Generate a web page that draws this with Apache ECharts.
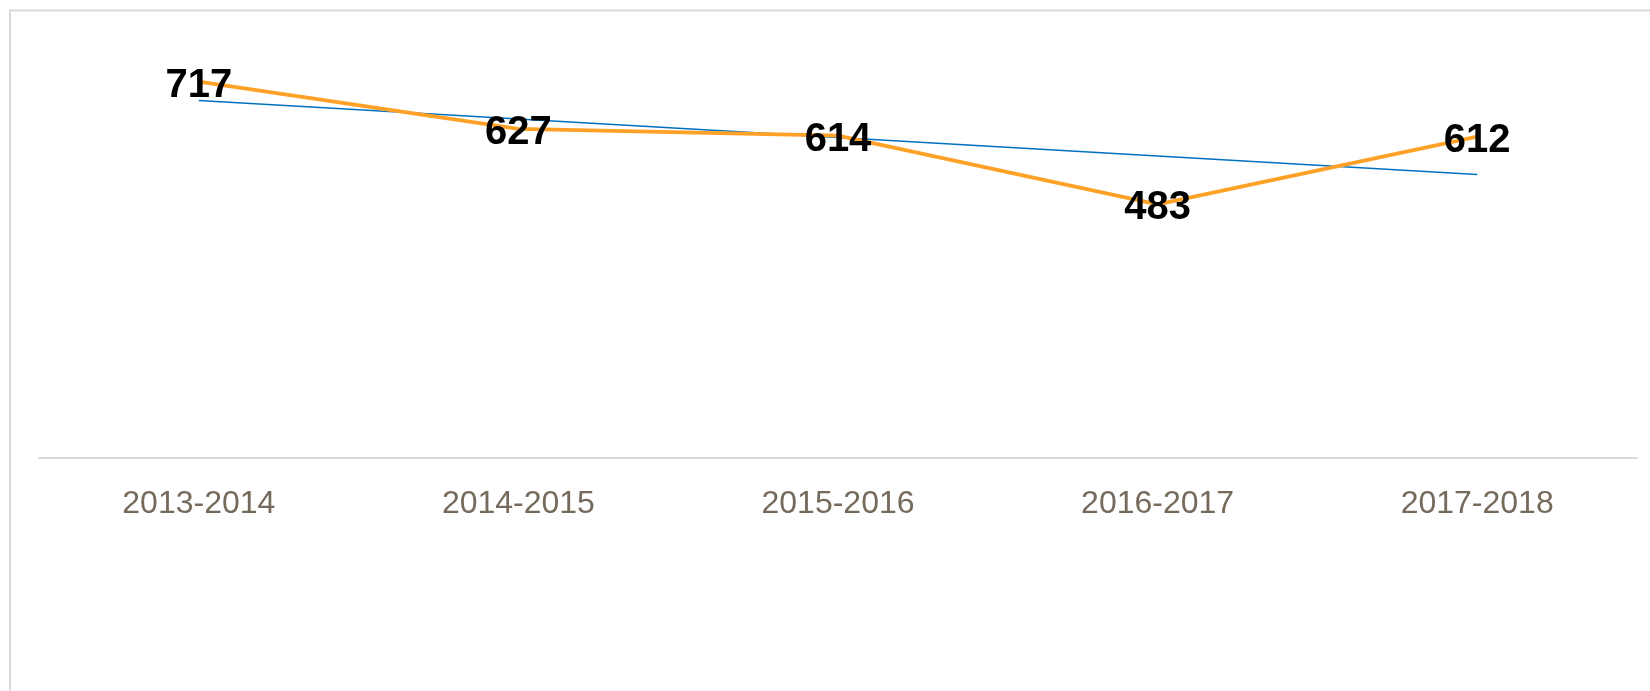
<!DOCTYPE html>
<html>
<head>
<meta charset="utf-8">
<style>
  html, body { margin: 0; padding: 0; background: #fff; }
  #chart { width: 1650px; height: 691px; }
</style>
<script src="https://cdn.jsdelivr.net/npm/echarts@6/dist/echarts.min.js"></script>
</head>
<body>
<div id="chart"></div>
<script>
// data
var categories = ['2013-2014', '2014-2015', '2015-2016', '2016-2017', '2017-2018'];
var values = [717, 627, 614, 483, 612];
// linear trendline, start and end values
var trendStart = 681;
var trendEnd = 540;

var trendData = categories.map(function (c, i) {
  if (i == 0) return trendStart;
  if (i == categories.length - 1) return trendEnd;
  return null;
});

var chart = echarts.init(document.getElementById('chart'));
var option = {
  animation: false,
  grid: { left: 39, right: 13, top: 38, bottom: 233, containLabel: false },
  graphic: [
    {
      type: 'polyline',
      silent: true,
      shape: { points: [[10, 700], [10, 10.5], [1660, 10.5]] },
      style: { stroke: '#D9D9D9', lineWidth: 2, fill: null }
    }
  ],
  xAxis: {
    type: 'category',
    data: categories,
    boundaryGap: true,
    axisLine: { lineStyle: { color: '#D9D9D9', width: 2 } },
    axisTick: { show: false },
    axisLabel: {
      color: '#766A5C',
      fontFamily: 'Liberation Sans',
      fontSize: 32,
      margin: 30
    }
  },
  yAxis: {
    type: 'value',
    min: 0,
    max: 800,
    show: false,
    splitLine: { show: false }
  },
  series: [
    {
      name: 'trend',
      type: 'line',
      data: trendData,
      connectNulls: true,
      showSymbol: false,
      symbol: 'none',
      lineStyle: { color: '#0070C0', width: 1.5 },
      z: 2
    },
    {
      name: 'values',
      type: 'line',
      data: values,
      showSymbol: true,
      symbol: 'circle',
      symbolSize: 1,
      itemStyle: { color: 'rgba(0,0,0,0)' },
      lineStyle: { color: '#FFA126', width: 3.8 },
      label: {
        show: true,
        position: 'inside',
        offset: [0, 4],
        color: '#000',
        fontFamily: 'Liberation Sans',
        fontWeight: 'bold',
        fontSize: 40
      },
      z: 3
    }
  ]
};
chart.setOption(option);
</script>
</body>
</html>
